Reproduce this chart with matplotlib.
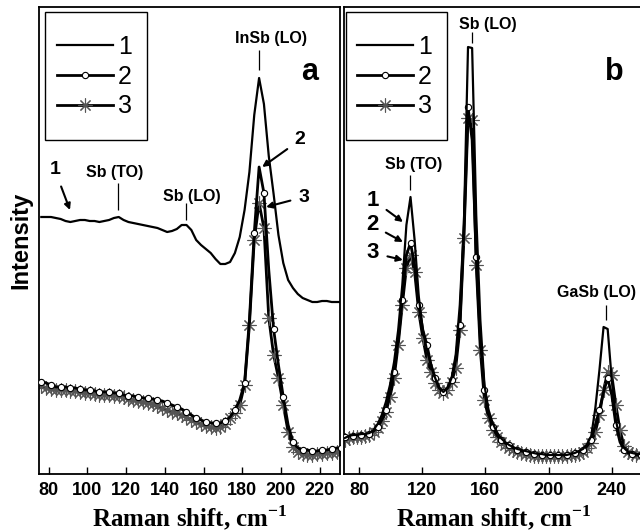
import numpy as np
import matplotlib
matplotlib.use("Agg")
import matplotlib.pyplot as plt
from matplotlib.patches import Rectangle

plt.rcParams['font.family'] = ['Liberation Sans', 'DejaVu Sans']

# ---- panel a : InSb region, Raman shift (cm-1) and intensity (arb. units)
shift_a = [76.2, 78.7, 81.2, 83.7, 86.2, 88.7, 91.2, 93.7, 96.2, 98.7,
           101.2, 103.7, 106.2, 108.7, 111.2, 113.7, 116.2, 118.7, 121.2, 123.7,
           126.2, 128.7, 131.2, 133.7, 136.2, 138.7, 141.2, 143.7, 146.2, 148.7,
           151.2, 153.7, 156.2, 158.7, 161.2, 163.7, 166.2, 168.7, 171.2, 173.7,
           176.2, 178.7, 181.2, 183.7, 186.2, 188.7, 191.2, 193.7, 196.2, 198.7,
           201.2, 203.7, 206.2, 208.7, 211.2, 213.7, 216.2, 218.7, 221.2, 223.7,
           226.2, 228.7, 231.2]
a1 = [257, 257, 257, 256, 255, 253, 252, 253, 254, 254,
      253, 253, 252, 253, 254, 256, 257, 254, 252, 251,
      250, 249, 248, 247, 246, 244, 242, 243, 245, 249,
      249, 244, 234, 229, 225, 221, 215, 210, 210, 212,
      221, 237, 264, 302, 359, 396, 370, 318, 280, 239,
      211, 194, 186, 180, 176, 174, 172, 172, 173, 173,
      172, 172, 172]
a2 = [92, 91, 89, 87, 87, 87, 86, 86, 85, 84,
      84, 83, 82, 82, 82, 81, 81, 79, 78, 78,
      77, 76, 76, 75, 74, 73, 71, 69, 67, 65,
      62, 59, 56, 54, 52, 51, 51, 51, 53, 57,
      64, 74, 91, 154, 241, 307, 281, 204, 145, 109,
      77, 49, 32, 26, 24, 24, 23, 23, 24, 24,
      25, 26, 26]
a3 = [88, 86, 85, 84, 84, 84, 83, 83, 82, 81,
      81, 80, 79, 79, 79, 78, 78, 77, 75, 74,
      73, 72, 71, 70, 68, 66, 64, 62, 61, 59,
      57, 54, 52, 50, 48, 47, 46, 47, 50, 56,
      61, 69, 89, 149, 234, 271, 246, 156, 119, 96,
      69, 42, 27, 22, 20, 19, 19, 20, 20, 21,
      21, 22, 22]

# ---- panel b : GaSb region
shift_b = [71.0, 73.6, 76.2, 78.8, 81.4, 84.0, 86.6, 89.2, 91.8, 94.4,
           97.0, 99.6, 102.2, 104.8, 107.4, 110.0, 112.6, 115.2, 117.8, 120.4,
           123.0, 125.6, 128.2, 130.8, 133.4, 136.0, 138.6, 141.2, 143.8, 146.4,
           149.0, 151.6, 154.2, 156.8, 159.4, 162.0, 164.6, 167.2, 169.8, 172.4,
           175.0, 177.6, 180.2, 182.8, 185.4, 188.0, 190.6, 193.2, 195.8, 198.4,
           201.0, 203.6, 206.2, 208.8, 211.4, 214.0, 216.6, 219.2, 221.8, 224.4,
           227.0, 229.6, 232.2, 234.8, 237.4, 240.0, 242.6, 245.2, 247.8, 250.4,
           253.0, 255.6, 258.2]
b1 = [36, 38, 39, 39, 40, 40, 41, 44, 50, 59,
      72, 89, 112, 144, 189, 249, 277, 234, 178, 144,
      124, 109, 96, 86, 82, 86, 96, 119, 169, 249,
      427, 426, 259, 154, 89, 64, 51, 42, 36, 32,
      29, 27, 25, 24, 23, 22, 21, 20, 20, 19,
      19, 19, 19, 19, 19, 20, 21, 23, 25, 30,
      38, 66, 104, 147, 145, 94, 54, 34, 26, 22,
      21, 20, 20]
b2 = [37, 38, 38, 39, 39, 39, 40, 43, 47, 54,
      64, 81, 102, 134, 174, 219, 231, 209, 169, 144,
      129, 109, 96, 86, 82, 86, 94, 114, 149, 244,
      367, 334, 217, 134, 84, 60, 47, 39, 34, 31,
      29, 26, 24, 23, 22, 21, 20, 20, 19, 19,
      19, 19, 19, 19, 19, 20, 21, 22, 24, 28,
      34, 49, 64, 82, 96, 79, 49, 32, 24, 21,
      20, 19, 19]
b3 = [34, 36, 37, 37, 37, 38, 39, 42, 46, 53,
      62, 77, 96, 129, 169, 206, 219, 202, 162, 136,
      114, 102, 91, 84, 81, 84, 92, 106, 144, 236,
      356, 354, 209, 124, 74, 56, 44, 37, 32, 29,
      26, 24, 22, 21, 20, 19, 18, 18, 18, 18,
      18, 18, 18, 18, 18, 19, 19, 20, 22, 26,
      31, 42, 59, 84, 102, 99, 69, 44, 28, 22,
      20, 19, 19]

# peak labels: (text, tick x, tick bottom, tick top, text x, text y)
peaks_a = [("InSb (LO)", 188.7, 404, 424, 194.9, 436),
           ("Sb (TO)", 115.7, 264, 291, 114.0, 302),
           ("Sb (LO)", 150.7, 254, 271, 153.7, 277)]
peaks_b = [("Sb (LO)", 151.5, 431, 442, 161.6, 450),
           ("Sb (TO)", 112.3, 284, 299, 114.8, 310),
           ("GaSb (LO)", 236.3, 154, 169, 230.6, 182)]

# curve number pointers: (label, text x, text y, arrow x, arrow y)
pointers_a = [("1", 83.2, 304, 91.0, 264),
              ("2", 209.8, 334, 190.3, 307),
              ("3", 211.9, 277, 192.3, 267)]
pointers_b = [("1", 88.9, 274, 107.8, 252),
              ("2", 88.2, 249, 107.8, 232),
              ("3", 88.9, 221, 107.8, 214)]

star = (8, 2, 0)

fig = plt.figure(figsize=(6.4, 5.32), dpi=100)
ax_a = fig.add_axes([39/640, 1-474/532, 301/640, 467/532])
ax_b = fig.add_axes([344/640, 1-474/532, 300/640, 467/532])


def draw(ax, x, y1, y2, y3, peaks, pointers, letter, xlim, xticks, ptsize,
         leg_anchor, box):
    l3, = ax.plot(x, y3, color='k', lw=2.0, marker=star, ms=10, mec='#555555',
                  mew=0.8, label='3', zorder=2)
    l2, = ax.plot(x, y2, color='k', lw=2.0, marker='o', ms=4.5, mfc='white',
                  mec='k', mew=0.8, markevery=2, label='2', zorder=3)
    l1, = ax.plot(x, y1, color='k', lw=1.6, label='1', zorder=4)

    for name, px, lo, hi, tx, ty in peaks:
        ax.vlines(px, lo, hi, color='k', lw=0.9)
        ax.text(tx, ty, name, ha='center', va='center', fontsize=11.5,
                fontweight='bold')
    for name, tx, ty, hx, hy in pointers:
        ax.annotate(name, xy=(hx, hy), xytext=(tx, ty), ha='center',
                    va='center', fontsize=ptsize, fontweight='bold',
                    arrowprops=dict(arrowstyle='-|>', color='k', lw=1.5,
                                    mutation_scale=9, shrinkA=4, shrinkB=0))

    ax.text(0.9, 0.86, letter, transform=ax.transAxes, ha='center',
            va='center', fontsize=22, fontweight='bold')

    # legend entries without frame, box drawn separately
    ax.legend(handles=[l1, l2, l3], loc='upper left',
              bbox_to_anchor=leg_anchor, borderaxespad=0, fontsize=18,
              frameon=False, handlelength=2.25, handletextpad=0.18,
              labelspacing=0.23, borderpad=0.5)
    ax.add_patch(Rectangle(box[:2], box[2], box[3], transform=ax.transAxes,
                           fill=False, edgecolor='k', lw=1.0, zorder=5))

    ax.set_xlim(*xlim)
    ax.set_ylim(0, 467)
    ax.set_xticks(xticks)
    ax.set_yticks([])
    ax.tick_params(axis='x', direction='in', length=5, width=1,
                   labelsize=13, pad=6)
    for lab in ax.get_xticklabels():
        lab.set_fontweight('bold')
    for sp in ax.spines.values():
        sp.set_linewidth(1.3)
    ax.set_xlabel('Raman shift, cm$^{\\mathregular{-1}}$', fontsize=18,
                  fontweight='bold', family='Liberation Serif', labelpad=3)


draw(ax_a, shift_a, a1, a2, a3, peaks_a, pointers_a, 'a', (75, 230.5),
     [80, 100, 120, 140, 160, 180, 200, 220], 14, (0.018, 0.967),
     (0.02, 0.715, 0.339, 0.274))
draw(ax_b, shift_b, b1, b2, b3, peaks_b, pointers_b, 'b', (70.5, 260.4),
     [80, 120, 160, 200, 240], 16, (0.0017, 0.967),
     (0.0067, 0.715, 0.337, 0.274))
ax_b.spines['right'].set_visible(False)

ax_a.set_ylabel('Intensity', fontsize=17, fontweight='bold', labelpad=5)

fig.savefig('out.png', dpi=100)
